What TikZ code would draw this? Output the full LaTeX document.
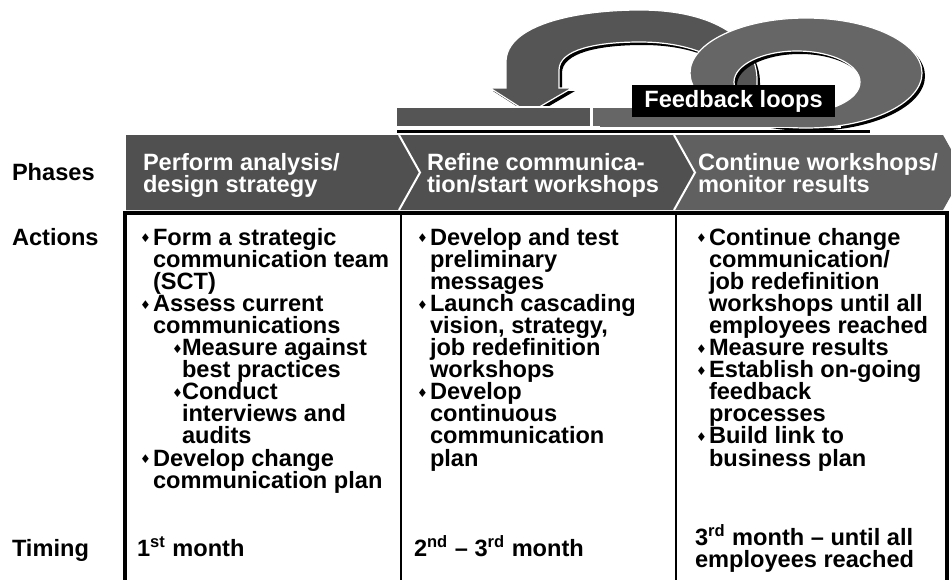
\documentclass[tikz,border=0pt]{standalone}
\usepackage{fontspec}
\setmainfont{Liberation Sans}
\newfontfamily\dejavu{DejaVu Sans}
\definecolor{chevA}{HTML}{505050}
\definecolor{chevC}{HTML}{606060}
\definecolor{arcgray}{HTML}{555555}
\definecolor{ringgray}{HTML}{666666}
\newcommand\tf{\fontsize{11.8}{11.05}\selectfont\bfseries\lineskiplimit=-100pt\relax}
\newcommand\hf{\fontsize{11.8}{11.4}\selectfont\bfseries\lineskiplimit=-100pt\relax}
\newcommand\mydia{\raisebox{0.09em}{\dejavu\fontsize{6}{6}\selectfont ♦}}
\newcommand\mybu{\makebox[6.5pt][l]{\mydia}}
\newcommand\mysubbu{\hspace*{16pt}\makebox[5pt][l]{\mydia}}
\newcommand\myind{\hspace*{6.5pt}}
\newcommand\mysubind{\hspace*{21pt}}
\begin{document}
\begin{tikzpicture}[x=0.5pt,y=-0.5pt,
  txt/.style={anchor=base west, inner sep=0pt, outer sep=0pt},
  shapeedge/.style={draw=white, line width=0.6pt}]
\useasboundingbox (0,0) rectangle (951,579);
\path[clip] (0,0) rectangle (951,579);

% ---------- feedback loop graphic ----------
% shadow of arc
\fill[black, shift={(3,3)}] (490,88) -- (506,88) -- (506,62) .. controls (506,25) and (575,10) .. (640,10) .. controls (715,10) and (757,40) .. (757,80) -- (757,115) -- (735,115) -- (735,90) .. controls (735,62) and (695,42) .. (640,42) .. controls (595,42) and (559,50) .. (559,70) -- (559,88) -- (572,88) -- (529,113) -- cycle;
% arc with arrow head
\filldraw[fill=arcgray, shapeedge] (490,88) -- (506,88) -- (506,62) .. controls (506,25) and (575,10) .. (640,10) .. controls (715,10) and (757,40) .. (757,80) -- (757,115) -- (735,115) -- (735,90) .. controls (735,62) and (695,42) .. (640,42) .. controls (595,42) and (559,50) .. (559,70) -- (559,88) -- (572,88) -- (529,113) -- cycle;
% ring shadow
\fill[black, even odd rule] (809,76) ellipse [x radius=116, y radius=55] (800,85) ellipse [x radius=63, y radius=31];
% bars
\fill[black] (397,129.5) rectangle (870,132.5);
\filldraw[fill=arcgray, shapeedge] (396,107) rectangle (591,127);
\filldraw[fill=ringgray, shapeedge] (592,107) rectangle (840,127);
% ring
\filldraw[fill=ringgray, shapeedge, even odd rule] (806,73) ellipse [x radius=116, y radius=55] (797,82) ellipse [x radius=63, y radius=31];
\fill[ringgray] (600,108) rectangle (800,126.5);
% label
\node[fill=black, text=white, minimum width=101.5pt, minimum height=16pt, inner sep=0pt, font=\hf] (fb) at (733.5,101) {Feedback loops};

% ---------- phase chevrons ----------
\fill[chevA] (126,135) -- (399,135) -- (420,172.5) -- (399,210) -- (126,210) -- cycle;
\fill[chevA] (399,135) -- (674,135) -- (695,172.5) -- (674,210) -- (399,210) -- (420,172.5) -- cycle;
\fill[chevC] (674,135) -- (943,135) -- (964,172.5) -- (943,210) -- (674,210) -- (695,172.5) -- cycle;
\draw[white, line width=1pt] (399,135) -- (420,172.5) -- (399,210);
\draw[white, line width=1pt] (674,135) -- (695,172.5) -- (674,210);

\node[txt, text=white] (p1) at (143,170) {\parbox[t]{140pt}{\hf\raggedright Perform analysis/\\design strategy}};
\node[txt, text=white] (p2) at (427,170) {\parbox[t]{140pt}{\hf\raggedright Refine communica-\\tion/start workshops}};
\node[txt, text=white] (p3) at (698,170) {\parbox[t]{140pt}{\hf\raggedright Continue workshops/\\monitor results}};

% ---------- table ----------
\draw[line width=1.6pt] (125,213) rectangle (947,620);
\draw[line width=0.8pt] (401,213) -- (401,620);
\draw[line width=0.8pt] (676,213) -- (676,620);

% row labels
\node[txt] (lphases) at (12,180) {\tf Phases};
\node[txt] (lactions) at (12,245) {\tf Actions};
\node[txt] (ltiming) at (12,556) {\tf Timing};

% actions
\node[txt] (a1) at (140,245) {\parbox[t]{160pt}{\tf\raggedright
\mybu Form a strategic\\
\myind communication team\\
\myind (SCT)\\
\mybu Assess current\\
\myind communications\\
\mysubbu Measure against\\
\mysubind best practices\\
\mysubbu Conduct\\
\mysubind interviews and\\
\mysubind audits\\
\mybu Develop change\\
\myind communication plan}};

\node[txt] (a2) at (417,245) {\parbox[t]{160pt}{\tf\raggedright
\mybu Develop and test\\
\myind preliminary\\
\myind messages\\
\mybu Launch cascading\\
\myind vision, strategy,\\
\myind job redefinition\\
\myind workshops\\
\mybu Develop\\
\myind continuous\\
\myind communication\\
\myind plan}};

\node[txt] (a3) at (696,245) {\parbox[t]{160pt}{\tf\raggedright
\mybu Continue change\\
\myind communication/\\
\myind job redefinition\\
\myind workshops until all\\
\myind employees reached\\
\mybu Measure results\\
\mybu Establish on-going\\
\myind feedback\\
\myind processes\\
\mybu Build link to\\
\myind business plan}};

% timing
\node[txt] (t1) at (137,556) {\tf 1\textsuperscript{st} month};
\node[txt] (t2) at (414,556) {\tf 2\textsuperscript{nd} – 3\textsuperscript{rd} month};
\node[txt] (t3) at (695,545) {\parbox[t]{160pt}{\hf\raggedright 3\textsuperscript{rd} month – until all\\employees reached}};
\end{tikzpicture}
\end{document}
